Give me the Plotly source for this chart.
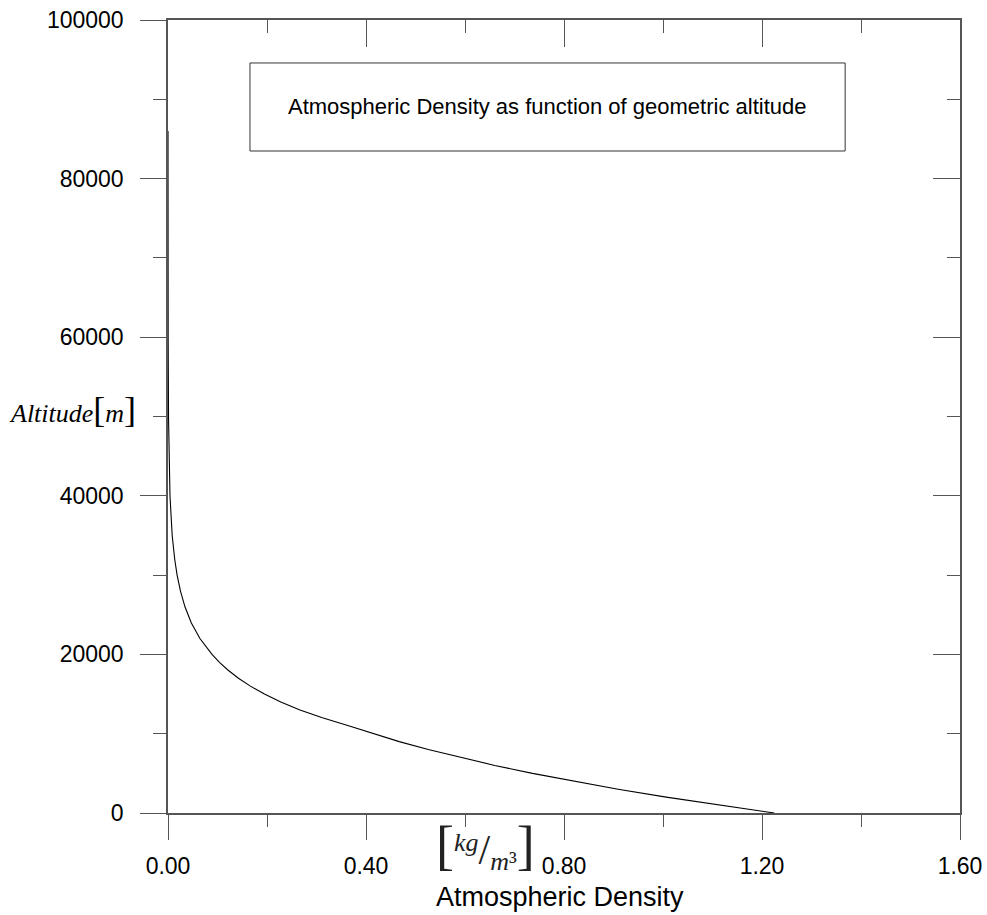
import plotly.graph_objects as go

# US Standard Atmosphere density vs geometric altitude
altitude_m = [0, 1000, 2000, 3000, 4000, 5000, 6000, 7000, 8000, 9000, 10000,
              11000, 12000, 13000, 14000, 15000, 16000, 17000, 18000, 19000, 20000,
              22000, 24000, 26000, 28000, 30000, 32000, 35000, 40000, 45000, 50000,
              60000, 70000, 80000, 86000]
density = [1.2250, 1.1117, 1.0066, 0.9093, 0.8194, 0.7364, 0.6601, 0.5900, 0.5258, 0.4671, 0.4135,
           0.3648, 0.3119, 0.2666, 0.2279, 0.1948, 0.1665, 0.1423, 0.1216, 0.1040, 0.08891,
           0.06451, 0.04694, 0.03426, 0.02508, 0.01841, 0.01355, 0.00846, 0.00400, 0.00197, 0.00103,
           0.00031, 0.0000828, 0.0000185, 0.0000068]

x_ticks = [0.0, 0.4, 0.8, 1.2, 1.6]
x_labels = ["0.00", "0.40", "0.80", "1.20", "1.60"]
y_ticks = [0, 20000, 40000, 60000, 80000, 100000]
y_labels = ["0", "20000", "40000", "60000", "80000", "100000"]

title_text = "Atmospheric Density as function of geometric altitude"

SANS = "Liberation Sans, Arial, sans-serif"
SERIF = "Liberation Serif, Times New Roman, serif"
AX = "#555555"

fig = go.Figure()
fig.add_trace(go.Scatter(x=density, y=altitude_m, mode="lines",
                         line=dict(color="black", width=1.1), showlegend=False,
                         hoverinfo="skip"))

common_x = dict(range=[0, 1.6], showgrid=False, zeroline=False, showline=True,
                automargin=False,
                linecolor=AX, linewidth=1.5, tickcolor=AX, tickwidth=1.2)
common_y = dict(range=[0, 100000], showgrid=False, zeroline=False, showline=True,
                automargin=False,
                linecolor=AX, linewidth=1.5, tickcolor=AX, tickwidth=1.2)

fig.update_layout(
    width=987, height=915,
    margin=dict(l=168, r=27, t=20, b=102),
    paper_bgcolor="white", plot_bgcolor="white",
    font=dict(family=SANS, color="black"),
    xaxis=dict(**common_x, side="bottom", ticks="outside", ticklen=25,
               tickmode="array", tickvals=x_ticks, ticktext=x_labels,
               tickfont=dict(size=23), ticklabelstandoff=7,
               minor=dict(tickmode="linear", tick0=0, dtick=0.2, ticks="outside",
                          ticklen=12, tickcolor=AX, tickwidth=1.2)),
    yaxis=dict(**common_y, side="left", ticks="outside", ticklen=26,
               tickmode="array", tickvals=y_ticks, ticktext=y_labels,
               tickfont=dict(size=23), ticklabelstandoff=12,
               minor=dict(tickmode="linear", tick0=0, dtick=10000, ticks="outside",
                          ticklen=13, tickcolor=AX, tickwidth=1.2)),
    xaxis2=dict(**common_x, overlaying="x", side="top", anchor="y", matches="x",
                ticks="inside", ticklen=27, showticklabels=False,
                tickmode="array", tickvals=x_ticks,
                minor=dict(tickmode="linear", tick0=0, dtick=0.2, ticks="inside",
                           ticklen=13, tickcolor=AX, tickwidth=1.2)),
    yaxis2=dict(**common_y, overlaying="y", side="right", anchor="x", matches="y",
                ticks="inside", ticklen=27, showticklabels=False,
                tickmode="array", tickvals=y_ticks,
                minor=dict(tickmode="linear", tick0=0, dtick=10000, ticks="inside",
                           ticklen=13, tickcolor=AX, tickwidth=1.2)),
)

# dummy invisible trace to activate secondary axes
fig.add_trace(go.Scatter(x=[density[0]], y=[altitude_m[0]], xaxis="x2", yaxis="y2",
                         mode="markers", marker=dict(opacity=0), showlegend=False,
                         hoverinfo="skip"))

# title box
fig.add_shape(type="rect", xref="paper", yref="paper",
              x0=0.1035, x1=0.855, y0=0.8348, y1=0.9458,
              line=dict(color="#333333", width=1), fillcolor="white")
fig.add_annotation(xref="paper", yref="paper", x=0.479, y=0.8903,
                   xanchor="center", yanchor="middle",
                   text=title_text, showarrow=False,
                   font=dict(size=22, family=SANS, color="black"))

# axis titles
fig.add_annotation(xref="paper", yref="paper", x=0.495, y=-0.1055,
                   xanchor="center", yanchor="middle",
                   text="Atmospheric Density", showarrow=False,
                   font=dict(size=27, family=SANS, color="black"))
fig.add_annotation(xref="paper", yref="paper", x=0.4015, y=-0.0416,
                   xanchor="center", yanchor="middle",
                   text=("<span style='font-size:54px'>[</span>"
                         "<sup><span style='font-size:26px'><i>kg</i></span></sup>"
                         "<span style='font-size:42px'>/</span>"
                         "<sub><span style='font-size:26px'><i>m</i>³</span></sub>"
                         "<span style='font-size:54px'>]</span>"),
                   showarrow=False,
                   font=dict(size=30, family=SERIF, color="#222222"))
fig.add_annotation(xref="paper", yref="paper", x=-0.203, xanchor="left",
                   y=0.508, yanchor="middle",
                   text=("<i>Altitude</i>"
                         "<span style='font-size:36px'>[</span>"
                         "<i>m</i>"
                         "<span style='font-size:36px'>]</span>"),
                   showarrow=False,
                   font=dict(size=26, family=SERIF, color="black"))

fig.write_html("out.html")
